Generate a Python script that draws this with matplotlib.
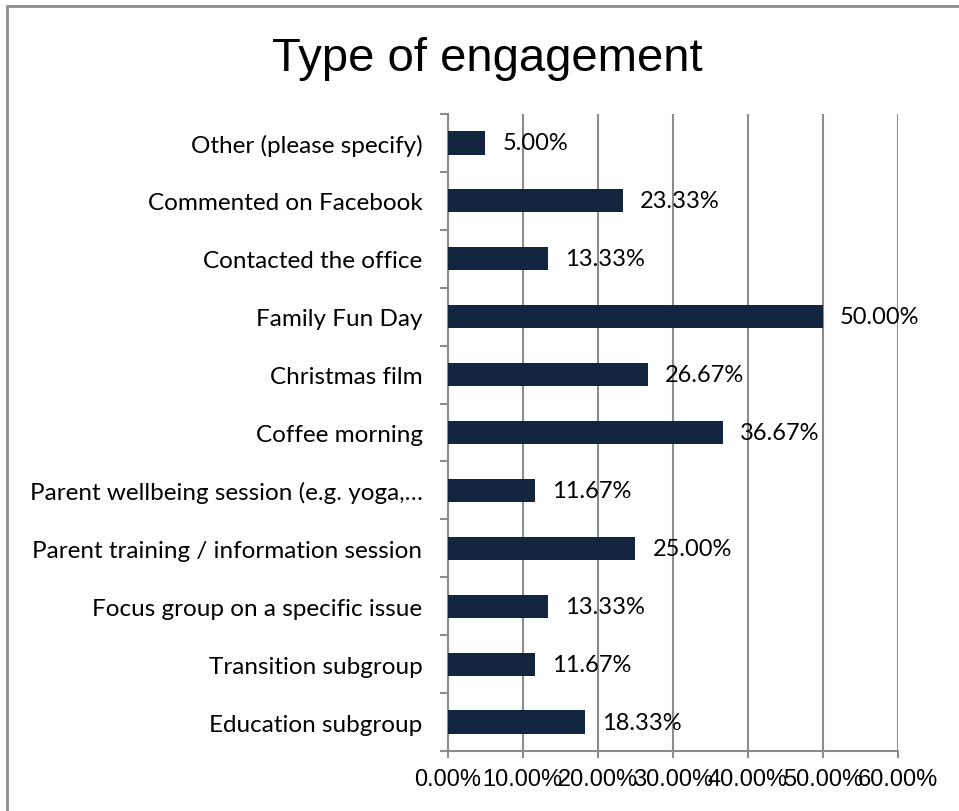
import matplotlib
matplotlib.use('Agg')
import matplotlib.pyplot as plt
from matplotlib.patches import Rectangle

# engagement types, bottom to top
categories = ['Education subgroup', 'Transition subgroup',
              'Focus group on a specific issue',
              'Parent training / information session',
              'Parent wellbeing session (e.g. yoga,…',
              'Coffee morning', 'Christmas film', 'Family Fun Day',
              'Contacted the office', 'Commented on Facebook',
              'Other (please specify)']
values = [18.33, 11.67, 13.33, 25.00, 11.67, 36.67, 26.67, 50.00, 13.33, 23.33, 5.00]
xticks = [0, 10, 20, 30, 40, 50, 60]

barcol = '#12253f'
gridcol = '#8c8c8c'
labfont = ['Lato', 'DejaVu Sans']
tickfont = ['Liberation Sans Narrow', 'Liberation Sans']

fig = plt.figure(figsize=(9.59, 8.12), dpi=100)
ax = fig.add_axes([447.5/959, 1-752/812, 450.5/959, 637/812])

pos = list(range(len(categories)))
ax.barh(pos, values, height=0.4, color=barcol, zorder=3)
for p, v in zip(pos, values):
    ax.text(v + 2.3, p, '%.2f%%' % v, va='center', ha='left', fontsize=17,
            family=labfont, zorder=4)

ax.set_xlim(0, 60)
ax.set_ylim(-0.5, len(categories) - 0.5)
ax.set_xticks(xticks)
ax.set_xticklabels(['%.2f%%' % t for t in xticks], family=tickfont, fontsize=17)
ax.set_yticks(pos)
ax.set_yticklabels(categories, family=labfont, fontsize=17.5)
ax.set_yticks([p - 0.5 for p in pos] + [len(pos) - 0.5], minor=True)
ax.tick_params(axis='y', which='major', length=0, pad=18)
ax.tick_params(axis='y', which='minor', length=6, width=1.5, color=gridcol, direction='out')
ax.tick_params(axis='x', length=5, width=1.5, color=gridcol, pad=7)

ax.grid(axis='x', color=gridcol, linewidth=1.5, zorder=0)
for s in ['top', 'right']:
    ax.spines[s].set_visible(False)
for s in ['left', 'bottom']:
    ax.spines[s].set_color(gridcol)
    ax.spines[s].set_linewidth(1.5)

fig.text(487/959, 1-59/812, 'Type of engagement', ha='center', va='center',
         fontsize=34, family='Liberation Sans')

# chart frame
fig.patches.append(Rectangle((6.5/959, -0.1), 1.2, 1-6.5/812+0.1, transform=fig.transFigure,
                             fill=False, edgecolor=gridcol, linewidth=2))

fig.savefig('out.png', dpi=100)
